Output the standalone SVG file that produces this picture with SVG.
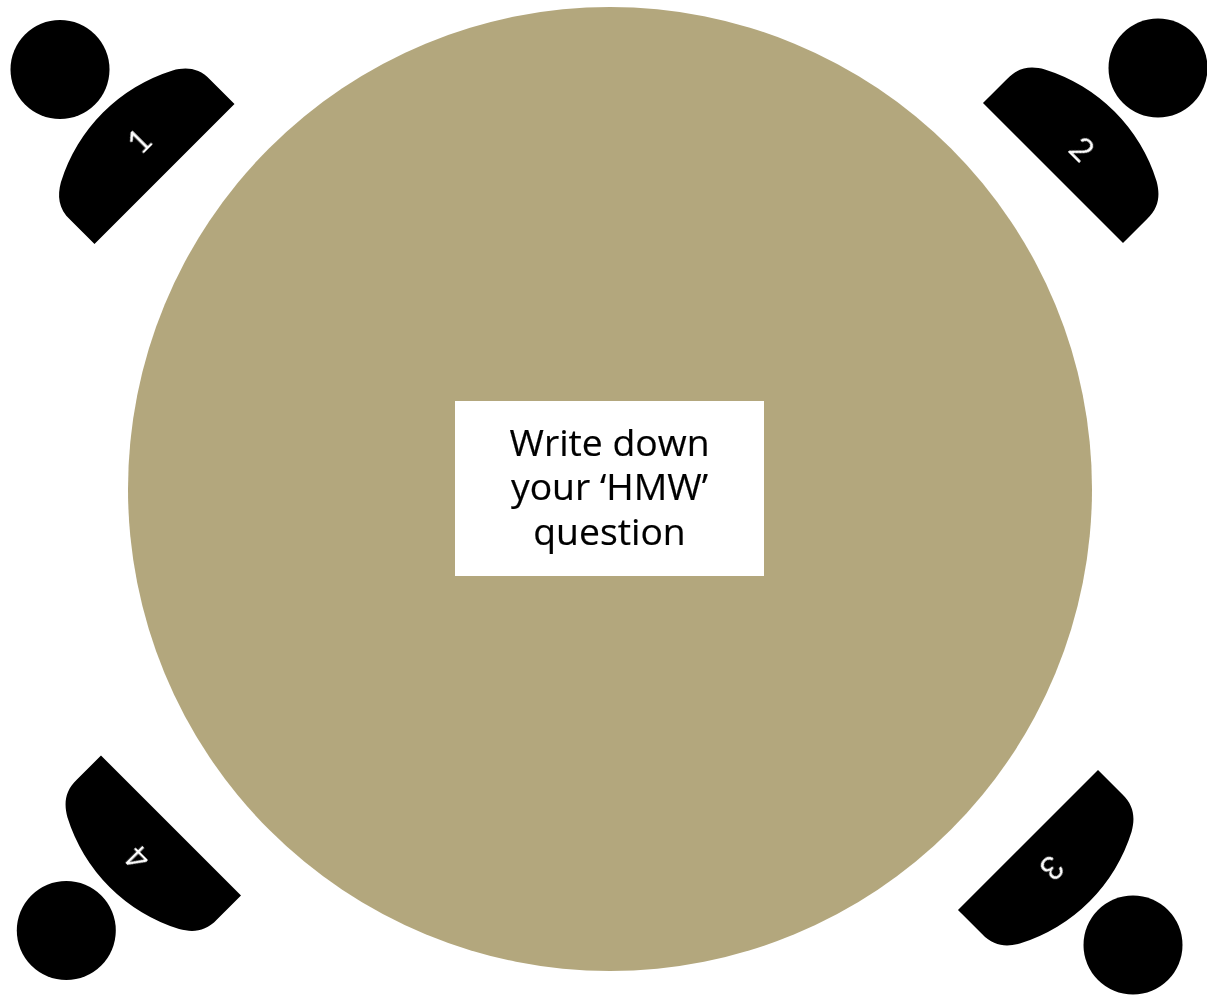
<svg xmlns="http://www.w3.org/2000/svg" width="1207" height="995" viewBox="0 0 1207 995">
<style>
.body{fill:#000}
.head{fill:#000}
.num{font-family:"Lato","Liberation Sans",sans-serif;font-weight:400;font-size:33px;fill:#fff;text-anchor:middle;filter:url(#plain)}
.q{font-family:"Open Sans","Noto Sans",sans-serif;font-size:37.3px;fill:#000;stroke:#000;stroke-width:.2px;text-anchor:middle;filter:url(#plain)}
</style>
<defs>
<filter id="plain" x="-20%" y="-20%" width="140%" height="140%" color-interpolation-filters="sRGB"><feOffset dx="0" dy="0"/></filter>
<path id="seat" d="M-99 0H99V-34C99.5 -51 91 -60.5 79 -67.5A170 170 0 0 0 -79 -67.5C-91 -60.5 -99.5 -51 -99 -34Z"/>
</defs>
<rect width="1207" height="995" fill="#fff"/>
<g id="table"><circle cx="610" cy="489" r="482" fill="#b3a77d"/></g>
<g id="prompt">
<rect x="455" y="401" width="309" height="175" fill="#fff"/>
<text class="q" x="609.5" y="456">Write down</text>
<text class="q" x="609.5" y="500">your ‘HMW’</text>
<text class="q" x="609.5" y="545">question</text>
</g>
<g id="seat1"><circle class="head" cx="60" cy="69.5" r="49.5"/><use href="#seat" class="body" transform="translate(164.5 174) rotate(-45)"/><text class="num" transform="translate(139 141) rotate(-45)" y="12">1</text></g>
<g id="seat2"><circle class="head" cx="1158" cy="68" r="49.5"/><use href="#seat" class="body" transform="translate(1053 173) rotate(45)"/><text class="num" transform="translate(1082 149) rotate(45)" y="12">2</text></g>
<g id="seat3"><circle class="head" cx="1133" cy="945" r="49.5"/><use href="#seat" class="body" transform="translate(1028 840) rotate(135)"/><text class="num" transform="translate(1052 868) rotate(135)" y="12">3</text></g>
<g id="seat4"><circle class="head" cx="66.3" cy="930.5" r="49.5"/><use href="#seat" class="body" transform="translate(171 825.5) rotate(225)"/><text class="num" transform="translate(137.5 858) rotate(225)" y="12">4</text></g>
<g id="connectors"></g>
</svg>
